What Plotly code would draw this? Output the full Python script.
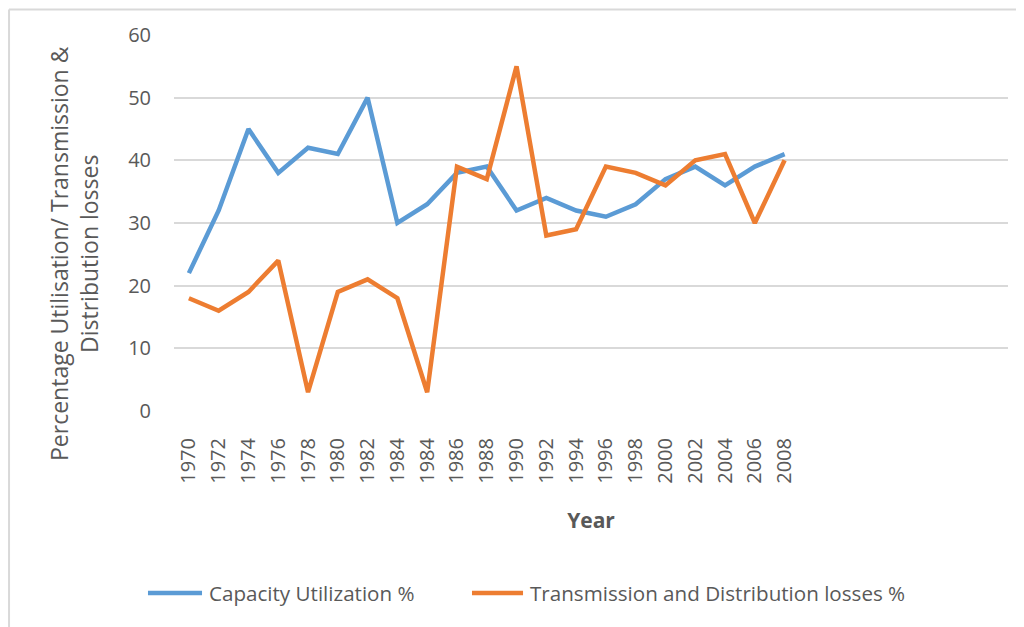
import plotly.graph_objects as go

years = ["1970", "1972", "1974", "1976", "1978", "1980", "1982", "1984", "1984",
         "1986", "1988", "1990", "1992", "1994", "1996", "1998", "2000", "2002",
         "2004", "2006", "2008", "", "", "", "", "", "", ""]
capacity = [22, 32, 45, 38, 42, 41, 50, 30, 33, 38, 39, 32, 34, 32, 31, 33, 37, 39, 36, 39, 41]
losses = [18, 16, 19, 24, 3, 19, 21, 18, 3, 39, 37, 55, 28, 29, 39, 38, 36, 40, 41, 30, 40]
series_names = ["Capacity Utilization %", "Transmission and Distribution losses %"]
series_colors = ["#5B9BD5", "#ED7D31"]

idx = list(range(len(years)))
FONT = "Open Sans"
GREY = "#595959"

fig = go.Figure()
for vals, name, col in zip([capacity, losses], series_names, series_colors):
    fig.add_trace(go.Scatter(x=idx[:len(vals)], y=vals, mode="lines", name=name,
                             line=dict(color=col, width=4.5), showlegend=False))

fig.update_layout(
    width=1024, height=627,
    margin=dict(l=166, r=24, t=27, b=224, autoexpand=False),
    paper_bgcolor="white", plot_bgcolor="white",
    font=dict(family=FONT, color=GREY, size=20),
    showlegend=False,
    xaxis=dict(range=[-0.5, 27.5], tickmode="array", tickvals=idx, ticktext=years,
               tickangle=-90, showgrid=False, zeroline=False, showline=False,
               ticks="", ticklabelstandoff=22, automargin=False,
               tickfont=dict(size=20, color=GREY, family=FONT),
               title=dict(text="<b>Year</b>", font=dict(size=21, color=GREY, family=FONT),
                          standoff=30)),
    yaxis=dict(range=[0, 60], tickvals=[0, 10, 20, 30, 40, 50, 60],
               showgrid=True, gridcolor="#d9d9d9", gridwidth=1.5, automargin=False,
               zeroline=False, showline=False, ticks="", ticklabelstandoff=22,
               tickfont=dict(size=20, color=GREY, family=FONT)),
)

fig.add_annotation(text="Percentage Utilisation/ Transmission &<br>Distribution losses",
                   xref="paper", yref="paper", x=-0.12, y=0.42, textangle=-90,
                   showarrow=False, xanchor="center", yanchor="middle",
                   font=dict(size=23, color=GREY, family=FONT))

# legend (drawn manually to match the reference's long keys)
leg_y = -0.484
leg_items = [(-0.0312, 0.0336, 0.0396), (0.3573, 0.4185, 0.4245)]
for (lx0, lx1, tx), name, col in zip(leg_items, series_names, series_colors):
    fig.add_shape(type="line", xref="paper", yref="paper", x0=lx0, x1=lx1,
                  y0=leg_y, y1=leg_y, line=dict(color=col, width=4.5))
    fig.add_annotation(text=name, xref="paper", yref="paper", x=tx, y=leg_y,
                       xanchor="left", yanchor="middle", showarrow=False,
                       font=dict(size=20.6, color=GREY, family=FONT))

# chart-area border (top and left edges visible)
fig.add_shape(type="line", xref="paper", yref="paper", x0=-0.1978, x1=1.05,
              y0=1.068, y1=1.068, line=dict(color="#d9d9d9", width=2))
fig.add_shape(type="line", xref="paper", yref="paper", x0=-0.1978, x1=-0.1978,
              y0=1.068, y1=-0.7, line=dict(color="#d9d9d9", width=2))

fig.write_html("out.html")
